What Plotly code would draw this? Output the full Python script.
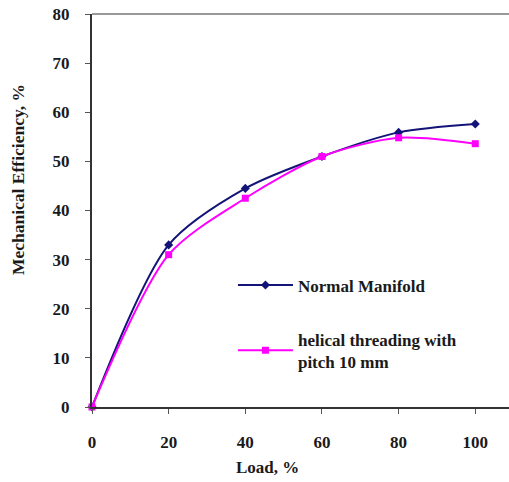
import plotly.graph_objects as go

load = [0, 20, 40, 60, 80, 100]
normal_manifold = [0, 33.0, 44.5, 51.0, 55.9, 57.6]
helical_pitch10 = [0, 31.0, 42.5, 51.0, 54.8, 53.6]
x_ticks = [0, 20, 40, 60, 80, 100]
y_ticks = [0, 10, 20, 30, 40, 50, 60, 70, 80]

font_family = "Liberation Serif"

fig = go.Figure()
fig.add_trace(go.Scatter(
    x=load, y=normal_manifold, name="<b>Normal Manifold</b>",
    mode="lines+markers", line=dict(color="#141478", width=2, shape="spline", smoothing=0.8),
    marker=dict(symbol="diamond", size=7, color="#141478"),
    legendgroup="a",
))
fig.add_trace(go.Scatter(
    x=load, y=helical_pitch10, name="<b>helical threading with<br>pitch 10 mm</b>",
    mode="lines+markers", line=dict(color="#ff00ff", width=2, shape="spline", smoothing=0.8),
    marker=dict(symbol="square", size=7, color="#ff00ff"),
    legendgroup="b",
))

fig.update_layout(
    width=509, height=482,
    margin=dict(l=92, r=0, t=14, b=75),
    paper_bgcolor="white", plot_bgcolor="white",
    font=dict(family=font_family, size=17, color="#1a1a1a"),
    showlegend=True,
    legend=dict(
        x=0.338, y=0.355, xanchor="left", yanchor="top",
        bgcolor="rgba(0,0,0,0)", traceorder="grouped", tracegroupgap=29,
        itemwidth=55,
        font=dict(family=font_family, size=17, color="#1a1a1a"),
    ),
    xaxis=dict(
        range=[0, 108.8], tickvals=x_ticks, ticktext=[f"<b>{v}</b>" for v in x_ticks],
        showgrid=False, zeroline=False, showline=True, linecolor="#333333", linewidth=2,
        ticks="outside", ticklen=5, tickcolor="#555555", ticklabelstandoff=14,
        tickfont=dict(size=17, family=font_family),
    ),
    yaxis=dict(
        range=[0, 80], tickvals=y_ticks, ticktext=[f"<b>{v}</b>" for v in y_ticks],
        showgrid=False, zeroline=False, showline=True, linecolor="#333333", linewidth=2,
        ticks="outside", ticklen=5, tickcolor="#555555", ticklabelstandoff=12,
        tickfont=dict(size=17, family=font_family),
    ),
    shapes=[dict(type="line", xref="paper", yref="paper", x0=0, x1=1, y0=1, y1=1,
                 line=dict(color="#999999", width=2))],
    annotations=[
        dict(text="<b>Load, %</b>", xref="paper", yref="paper", x=0.422, y=-0.153,
             showarrow=False, xanchor="center", yanchor="middle",
             font=dict(size=17, family=font_family, color="#1a1a1a")),
        dict(text="<b>Mechanical Efficiency, %</b>", xref="paper", yref="paper",
             x=-0.177, y=0.578, textangle=-90, showarrow=False,
             xanchor="center", yanchor="middle",
             font=dict(size=17.5, family=font_family, color="#1a1a1a")),
    ],
)
fig.update_traces(cliponaxis=False)

fig.write_html("out.html")
